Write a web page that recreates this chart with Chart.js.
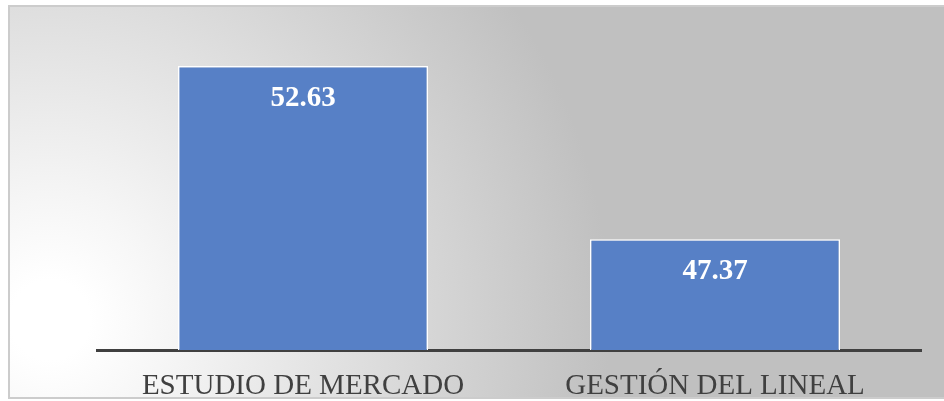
<!DOCTYPE html>
<html lang="es">
<head>
  <meta charset="UTF-8" />
  <title>Estudio de mercado vs gestión del lineal</title>
  <script src="https://cdn.jsdelivr.net/npm/chart.js"></script>
  <style>
    html, body { margin: 0; padding: 0; background: #ffffff; }
    canvas { display: block; }
  </style>
</head>
<body>
  <canvas id="chart" width="944" height="401"></canvas>
  <script>
    const categories = ["ESTUDIO DE MERCADO", "GESTIÓN DEL LINEAL"];
    const values = [52.63, 47.37];
    const axisMin = 44;
    const axisMax = 54;

    // grey panel with a soft light spot on the left, plus thin frame
    const panelBackground = {
      id: "panelBackground",
      beforeDraw(chart) {
        const ctx = chart.ctx;
        const x0 = 9, y0 = 6, x1 = 950, y1 = 398;
        ctx.save();
        const g = ctx.createRadialGradient(50, 320, 40, 50, 320, 560);
        g.addColorStop(0, "#ffffff");
        g.addColorStop(0.15, "#f6f6f6");
        g.addColorStop(1, "#c0c0c0");
        ctx.fillStyle = g;
        ctx.fillRect(x0, y0, x1 - x0, y1 - y0);
        ctx.strokeStyle = "#cccccc";
        ctx.lineWidth = 2;
        ctx.strokeRect(x0, y0, x1 - x0, y1 - y0);
        ctx.restore();
      }
    };

    // white value labels inside the top of each bar
    const valueLabels = {
      id: "valueLabels",
      afterDatasetsDraw(chart) {
        const ctx = chart.ctx;
        const meta = chart.getDatasetMeta(0);
        ctx.save();
        ctx.fillStyle = "#ffffff";
        ctx.font = "bold 29px 'Liberation Serif', 'Times New Roman', serif";
        ctx.textAlign = "center";
        ctx.textBaseline = "middle";
        meta.data.forEach((bar, i) => {
          ctx.fillText(values[i].toFixed(2), bar.x, bar.y + 32);
        });
        ctx.restore();
      }
    };

    new Chart(document.getElementById("chart").getContext("2d"), {
      type: "bar",
      data: {
        labels: categories,
        datasets: [{
          data: values,
          backgroundColor: "#5780c6",
          borderColor: "#ffffff",
          borderWidth: 1.5,
          barPercentage: 0.607,
          categoryPercentage: 1
        }]
      },
      options: {
        responsive: false,
        animation: false,
        layout: { padding: { left: 97, right: 23, top: 21, bottom: 0 } },
        plugins: {
          legend: { display: false },
          tooltip: { enabled: false }
        },
        scales: {
          x: {
            grid: { display: false },
            border: { display: true, color: "#404040", width: 3 },
            ticks: {
              color: "#404040",
              padding: 11,
              font: { family: "'Liberation Serif', 'Times New Roman', serif", size: 29 }
            },
            afterFit(scale) { scale.height = 51; }
          },
          y: {
            display: false,
            min: axisMin,
            max: axisMax
          }
        }
      },
      plugins: [panelBackground, valueLabels]
    });
  </script>
</body>
</html>
